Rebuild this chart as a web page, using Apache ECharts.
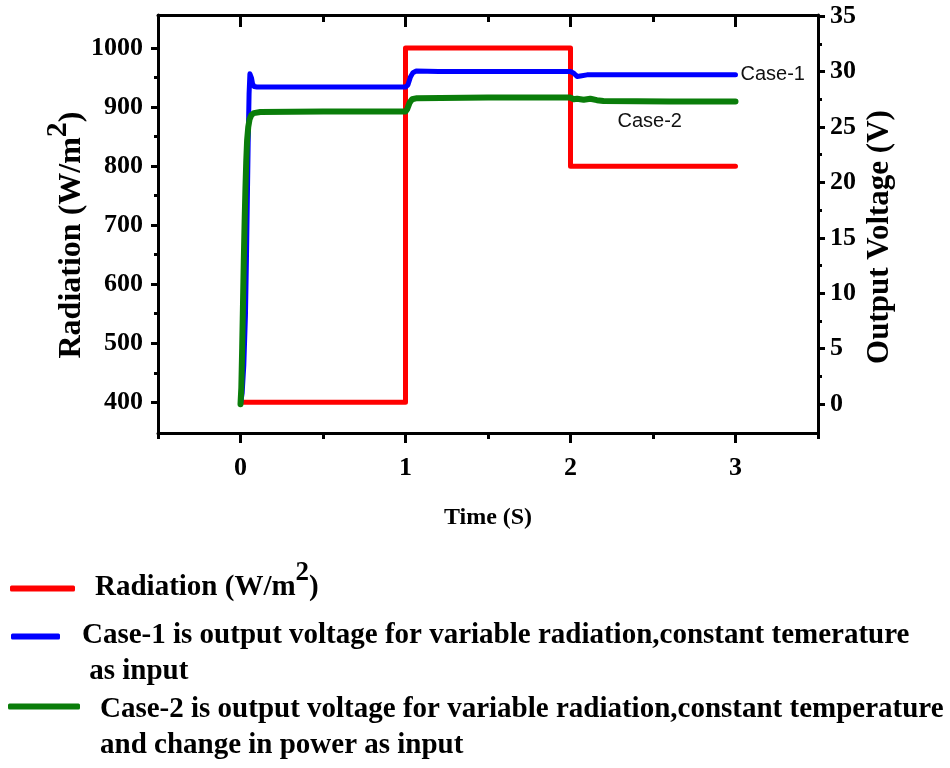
<!DOCTYPE html>
<html><head><meta charset="utf-8">
<script src="https://cdn.jsdelivr.net/npm/echarts@6/dist/echarts.min.js"></script>
<style>html,body{margin:0;padding:0;background:#fff}#c{width:950px;height:768px}</style>
</head><body><div id="c"></div>
<script>
// ---- data (time in s, value) ----
const radiation = [[0,400],[1,400],[1,1000],[2,1000],[2,800],[3,800]];
const case1 = [[0,0],[0.01,1],[0.02,3.5],[0.03,8],[0.036,13],[0.042,19],[0.047,24],[0.052,28],[0.057,29.8],[0.062,29.9],[0.067,29.4],[0.073,28.9],[0.082,28.65],[0.1,28.6],[0.5,28.6],[1.0,28.6],[1.015,28.8],[1.03,29.5],[1.045,29.9],[1.065,30.05],[1.2,30.0],[1.6,30.0],[2.0,30.0],[2.02,29.85],[2.04,29.55],[2.06,29.6],[2.1,29.7],[2.5,29.7],[3.0,29.7]];
const case2 = [[0,0],[0.005,1.5],[0.01,5],[0.015,9],[0.02,13],[0.025,16.5],[0.03,19.5],[0.035,22],[0.04,23.8],[0.047,25],[0.055,25.7],[0.065,26.05],[0.08,26.25],[0.12,26.35],[0.5,26.4],[1.0,26.4],[1.01,26.6],[1.025,27.2],[1.04,27.5],[1.07,27.6],[1.5,27.65],[2.0,27.65],[2.02,27.5],[2.04,27.55],[2.08,27.45],[2.12,27.55],[2.16,27.42],[2.2,27.35],[2.6,27.3],[3.0,27.3]];
const xTickLabels = [0,1,2,3];
const xMinorTicks = [-0.5,0.5,1.5,2.5,3.5];
const xTopMinorTicks = [0.5,1.5,2.5];
const radTickLabels = [400,500,600,700,800,900,1000];
const radMinorTicks = [450,550,650,750,850,950];
const voltTickLabels = [0,5,10,15,20,25,30,35];
const voltMinorTicks = [2.5,7.5,12.5,17.5,22.5,27.5,32.5];
const seriesNames = ['Radiation','Case-1','Case-2'];
const legendTexts = [
  '{n|Radiation (W/m}{s|2}{n|)}',
  '{t|Case-1 is output voltage for variable radiation,constant temerature}\n{t| as input}',
  '{t|Case-2 is output voltage for variable radiation,constant temperature}\n{t|and change in power as input}'
];
const case2Label = {text:'Case-2', coord:[2.48, 25.5]};

const SERIF = '"Liberation Serif","Times New Roman",serif';
const SANS = '"Liberation Sans",Arial,sans-serif';
const BLACK = '#000';
const axisLine = {show:true, onZero:false, lineStyle:{color:BLACK, width:3}};
const tickLbl = {fontFamily:SERIF, fontWeight:'bold', fontSize:26, color:BLACK, formatter:(v)=>String(v)};
const legTxt = {fontFamily:SERIF, fontWeight:'bold', fontSize:29, color:BLACK, lineHeight:36};

function minorAxis(pos, minmax, ticks, len, inside){
  return Object.assign({type:'value', position:pos, axisLine:{show:false, onZero:false},
    axisTick:{show:true, inside:!!inside, length:len, customValues:ticks, lineStyle:{color:BLACK,width:3}},
    axisLabel:{show:false}, splitLine:{show:false}}, minmax);
}
const xr = {min:-0.5, max:3.5};
const yl = {min:348, max:1056};
const yr = {min:-2.6, max:35.1};

const option = {
  animation:false,
  backgroundColor:'#fff',
  grid:{left:158, right:132, top:15, bottom:335, containLabel:false},
  xAxis:[
    Object.assign({type:'value', position:'bottom', axisLine,
      axisTick:{show:true, length:10, customValues:xTickLabels, lineStyle:{color:BLACK,width:3}},
      axisLabel:Object.assign({customValues:xTickLabels, margin:22}, tickLbl),
      splitLine:{show:false},
      name:'Time (S)', nameLocation:'middle', nameGap:70,
      nameTextStyle:{fontFamily:SERIF, fontWeight:'bold', fontSize:24, color:BLACK, lineHeight:30}}, xr),
    minorAxis('bottom', xr, xMinorTicks, 6),
    Object.assign({type:'value', position:'top', axisLine,
      axisTick:{show:true, inside:true, length:12, customValues:xTickLabels, lineStyle:{color:BLACK,width:3}},
      axisLabel:{show:false}, splitLine:{show:false}}, xr),
    minorAxis('top', xr, xTopMinorTicks, 7, true)
  ],
  yAxis:[
    Object.assign({type:'value', position:'left', axisLine,
      axisTick:{show:true, length:7, customValues:radTickLabels, lineStyle:{color:BLACK,width:3}},
      axisLabel:Object.assign({customValues:radTickLabels, margin:15}, tickLbl),
      splitLine:{show:false},
      name:'{n|Radiation (W/m}{s|2}{n|)}', nameLocation:'middle', nameRotate:90, nameGap:68, nameMoveOverlap:false,
      nameTextStyle:{padding:[0,22,0,0], rich:{
        n:{fontFamily:SERIF, fontWeight:'bold', fontSize:32, color:BLACK, lineHeight:36},
        s:{fontFamily:SERIF, fontWeight:'bold', fontSize:30, color:BLACK, lineHeight:36, padding:[0,0,28,0]}}}}, yl),
    Object.assign({type:'value', position:'right', axisLine,
      axisTick:{show:true, length:7, customValues:voltTickLabels, lineStyle:{color:BLACK,width:3}},
      axisLabel:Object.assign({customValues:voltTickLabels, margin:12}, tickLbl),
      splitLine:{show:false},
      name:'Output Voltage (V)', nameLocation:'middle', nameRotate:90, nameGap:44, nameMoveOverlap:false,
      nameTextStyle:{fontFamily:SERIF, fontWeight:'bold', fontSize:31, color:BLACK, lineHeight:36, padding:[0,26,0,0]}}, yr),
    minorAxis('left', yl, radMinorTicks, 4),
    minorAxis('right', yr, voltMinorTicks, 4)
  ],
  legend:[
    {data:[seriesNames[0]], left:10, top:560, padding:0, itemWidth:65, itemHeight:6, icon:'roundRect',
      formatter:()=>legendTexts[0],
      textStyle:{color:BLACK, padding:[0,0,2,15], rich:{
        n:legTxt,
        s:Object.assign({}, legTxt, {fontSize:27, padding:[0,0,28,0]})}}},
    {data:[seriesNames[1]], left:11, top:621, padding:0, itemWidth:49, itemHeight:6, icon:'roundRect',
      formatter:()=>legendTexts[1],
      textStyle:{color:BLACK, padding:[34,0,0,17], rich:{t:legTxt}}},
    {data:[seriesNames[2]], left:8, top:695, padding:0, itemWidth:72, itemHeight:6, icon:'roundRect',
      formatter:()=>legendTexts[2],
      textStyle:{color:BLACK, padding:[42,0,0,15], rich:{t:legTxt}}}
  ],
  series:[
    {name:seriesNames[0], type:'line', xAxisIndex:0, yAxisIndex:0, data:radiation, showSymbol:false, symbol:'none',
      color:'#ff0000', lineStyle:{color:'#ff0000', width:5, cap:'round', join:'round'}, z:2},
    {name:seriesNames[1], type:'line', xAxisIndex:0, yAxisIndex:1, data:case1, showSymbol:false, symbol:'none',
      color:'#0000ff', lineStyle:{color:'#0000ff', width:5, cap:'round', join:'round'}, z:3,
      endLabel:{show:true, formatter:'Case-1', distance:5, color:'#111', fontFamily:SANS, fontSize:20}},
    {name:seriesNames[2], type:'line', xAxisIndex:0, yAxisIndex:1, data:case2, showSymbol:false, symbol:'none',
      color:'#0a7d0a', lineStyle:{color:'#0a7d0a', width:6, cap:'round', join:'round'}, z:4,
      markPoint:{symbol:'circle', symbolSize:1, itemStyle:{color:'rgba(0,0,0,0)'},
        label:{show:true, position:'inside', formatter:case2Label.text, color:'#111', fontFamily:SANS, fontSize:20},
        data:[{coord:case2Label.coord}]}}
  ]
};
const chart = echarts.init(document.getElementById('c'));
chart.setOption(option);
</script></body></html>
